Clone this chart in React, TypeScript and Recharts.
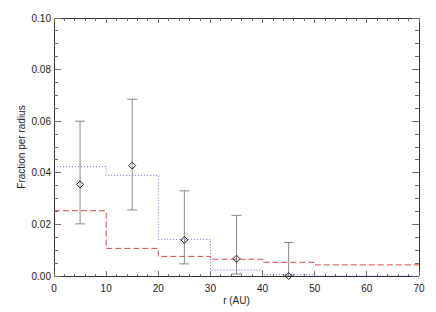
import { ComposedChart, ErrorBar, Line, Scatter, XAxis, YAxis } from "recharts";

document.body.style.margin = "0";

// histogram bin edges (AU); last value repeated so the step reaches 70
const binEdges = [0, 10, 20, 30, 40, 50, 60, 70];
const blueFraction = [0.0424, 0.039, 0.0142, 0.0023, 0.0005, 0, 0, 0];
const redFraction = [0.0253, 0.0107, 0.0076, 0.0065, 0.0053, 0.0043, 0.0043, 0.0043];

// observed fractions with error bars
const pointRadius = [5, 15, 25, 35, 45];
const pointFraction = [0.0355, 0.0428, 0.014, 0.0067, 0];
const pointLow = [0.0202, 0.0256, 0.0047, 0.0008, 0];
const pointHigh = [0.06, 0.0685, 0.033, 0.0235, 0.013];

const xMajorTicks = [0, 10, 20, 30, 40, 50, 60, 70];
const yMajorTicks = [0, 0.02, 0.04, 0.06, 0.08, 0.1];
const xTicks = Array.from({ length: 36 }, (_, i) => i * 2);
const yTicks = Array.from({ length: 21 }, (_, i) => +(i * 0.005).toFixed(3));

const stepData = binEdges.map((r, i) => ({
  r,
  blue: blueFraction[i],
  red: redFraction[i]
}));

const pointData = pointRadius.map((r, i) => ({
  r,
  frac: pointFraction[i],
  err: [pointFraction[i] - pointLow[i], pointHigh[i] - pointFraction[i]]
}));

const AXIS = "#333";
const TICK = "#6e6e6e";
const TEXT = "#222";
const FONT = "'Liberation Sans', Arial, Helvetica, sans-serif";

function BottomTick({ x, y, payload }: any) {
  const major = xMajorTicks.includes(payload.value);
  return (
    <g>
      <line
        x1={x}
        y1={y}
        x2={x}
        y2={y - (major ? 5 : 2.5)}
        stroke={TICK}
        shapeRendering="crispEdges"
      />
      {major && (
        <text
          x={x}
          y={y + 12}
          textAnchor="middle"
          dominantBaseline="central"
          fontSize={10}
          fontFamily={FONT}
          fill={TEXT}
        >
          {payload.value}
        </text>
      )}
    </g>
  );
}

function TopTick({ x, y, payload }: any) {
  const major = xMajorTicks.includes(payload.value);
  return (
    <line
      x1={x}
      y1={y}
      x2={x}
      y2={y + (major ? 5 : 2.5)}
      stroke={TICK}
      shapeRendering="crispEdges"
    />
  );
}

function LeftTick({ x, y, payload }: any) {
  const major = yMajorTicks.includes(payload.value);
  return (
    <g>
      <line
        x1={x}
        y1={y}
        x2={x + (major ? 7 : 4)}
        y2={y}
        stroke={TICK}
        shapeRendering="crispEdges"
      />
      {major && (
        <text
          x={x - 3}
          y={y}
          textAnchor="end"
          dominantBaseline="central"
          fontSize={10}
          fontFamily={FONT}
          fill={TEXT}
        >
          {payload.value.toFixed(2)}
        </text>
      )}
    </g>
  );
}

function RightTick({ x, y, payload }: any) {
  const major = yMajorTicks.includes(payload.value);
  return (
    <line
      x1={x}
      y1={y}
      x2={x - (major ? 7 : 4)}
      y2={y}
      stroke={TICK}
      shapeRendering="crispEdges"
    />
  );
}

function Diamond({ cx, cy }: any) {
  const s = 3.5;
  return (
    <polygon
      points={`${cx},${cy - s} ${cx + s},${cy} ${cx},${cy + s} ${cx - s},${cy}`}
      fill="none"
      stroke="#222"
      strokeWidth={1}
    />
  );
}

const axisLine = { stroke: AXIS, shapeRendering: "crispEdges" };

export default function App() {
  return (
    <div style={{ width: 436, height: 312 }}>
      <ComposedChart
        width={436}
        height={312}
        data={stepData}
        margin={{ top: 17, right: 16, bottom: 6, left: 8 }}
      >
        <XAxis
          xAxisId="b"
          dataKey="r"
          type="number"
          domain={[0, 70]}
          ticks={xTicks}
          interval={0}
          height={30}
          tickSize={0}
          tickMargin={0}
          tickLine={false}
          axisLine={axisLine}
          tick={BottomTick}
          label={{
            value: "r (AU)",
            position: "insideBottom",
            offset: 2,
            fontSize: 10,
            fontFamily: FONT,
            fill: TEXT
          }}
        />
        <XAxis
          xAxisId="t"
          orientation="top"
          dataKey="r"
          type="number"
          domain={[0, 70]}
          ticks={xTicks}
          interval={0}
          height={1}
          tickSize={0}
          tickMargin={0}
          tickLine={false}
          axisLine={axisLine}
          tick={TopTick}
        />
        <YAxis
          yAxisId="l"
          type="number"
          domain={[0, 0.1]}
          ticks={yTicks}
          interval={0}
          width={46}
          tickSize={0}
          tickMargin={0}
          tickLine={false}
          axisLine={axisLine}
          tick={LeftTick}
          label={{
            position: "center",
            content: ({ viewBox }: any) => {
              const cx = viewBox.x + 13;
              const cy = viewBox.y + viewBox.height / 2;
              return (
                <text
                  x={cx}
                  y={cy}
                  transform={`rotate(-90, ${cx}, ${cy})`}
                  textAnchor="middle"
                  dominantBaseline="central"
                  fontSize={10}
                  fontFamily={FONT}
                  fill={TEXT}
                >
                  Fraction per radius
                </text>
              );
            }
          }}
        />
        <YAxis
          yAxisId="r"
          orientation="right"
          type="number"
          domain={[0, 0.1]}
          ticks={yTicks}
          interval={0}
          width={1}
          tickSize={0}
          tickMargin={0}
          tickLine={false}
          axisLine={axisLine}
          tick={RightTick}
        />

        <Line
          xAxisId="t"
          yAxisId="r"
          dataKey="red"
          stroke="none"
          dot={false}
          activeDot={false}
          legendType="none"
          isAnimationActive={false}
        />
        <Line
          xAxisId="b"
          yAxisId="l"
          type="stepAfter"
          dataKey="red"
          stroke="#e04848"
          strokeWidth={1}
          strokeDasharray="6 3"
          dot={false}
          activeDot={false}
          isAnimationActive={false}
        />
        <Line
          xAxisId="b"
          yAxisId="l"
          type="stepAfter"
          dataKey="blue"
          stroke="#6a6aff"
          strokeWidth={1}
          strokeDasharray="1 2"
          dot={false}
          activeDot={false}
          isAnimationActive={false}
        />
        <Scatter
          xAxisId="b"
          yAxisId="l"
          data={pointData}
          dataKey="frac"
          shape={Diamond}
          isAnimationActive={false}
        >
          <ErrorBar
            dataKey="err"
            direction="y"
            width={5}
            stroke="#888"
            strokeWidth={1}
            isAnimationActive={false}
          />
        </Scatter>
      </ComposedChart>
    </div>
  );
}
